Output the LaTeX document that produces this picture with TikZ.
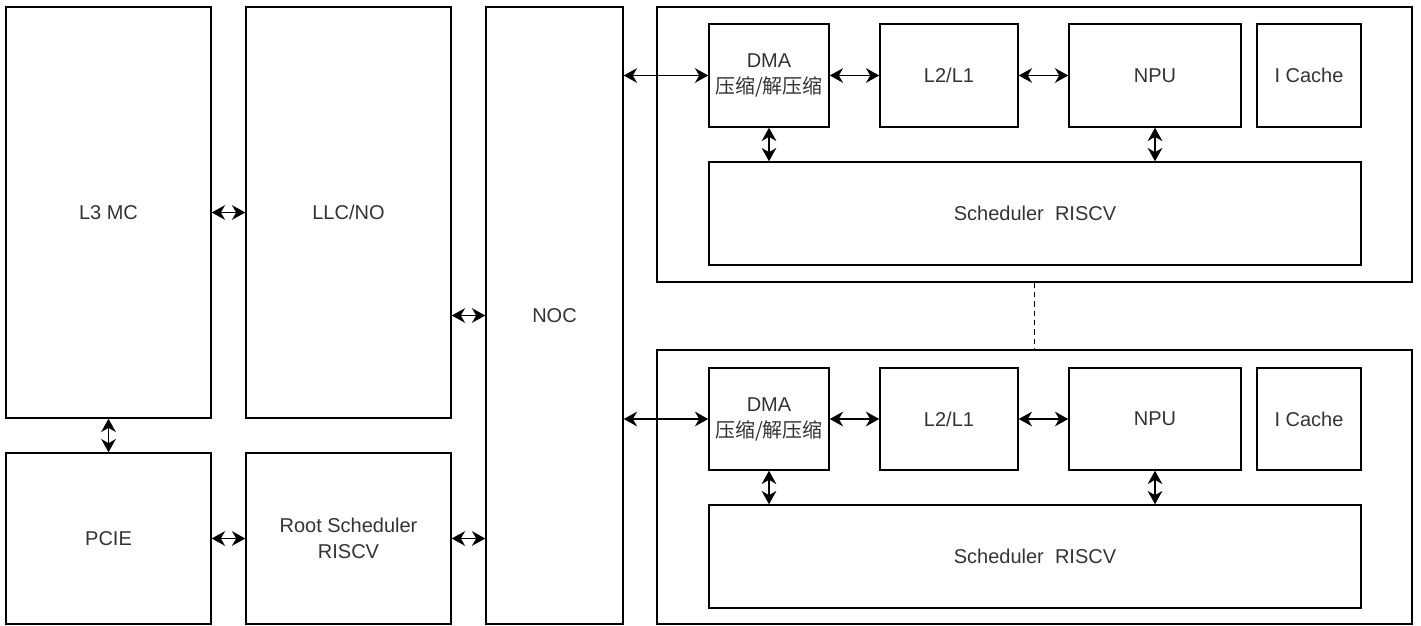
\documentclass[tikz,border=0pt]{standalone}
\usepackage{fontspec}
\setmainfont{Liberation Sans}
\newfontfamily\cjk{Noto Sans CJK SC}
\usetikzlibrary{arrows.meta,fit}
\begin{document}
\begin{tikzpicture}[x=0.75pt,y=-0.75pt,
  box/.style={draw=black,line width=1.1pt,inner sep=0pt,fit={#1}},
  lbl/.style={align=center,inner sep=0pt,font=\fontsize{15}{19.5}\selectfont,text=black!80},
  txt/.style={label={[lbl]center:#1}},
  biarrow/.style={line width=1.1pt,{Stealth[length=10pt,width=11pt,inset=3.2pt]}-{Stealth[length=10pt,width=11pt,inset=3.2pt]}},
  dashline/.style={line width=0.9pt,dashed,dash pattern=on 4pt off 3pt}]
\useasboundingbox (0,0) rectangle (1421,625);
% left column
\node[box={(6,7)(211,418)},txt={L3 MC}] (L3) {};
\node[box={(246,7)(451,418)},txt={LLC/NO}] (LLC) {};
\node[box={(486,7)(623,624)},txt={NOC}] (NOC) {};
\node[box={(6,453)(211,624)},txt={PCIE}] (PCIE) {};
\node[box={(246,453)(451,624)},txt={Root Scheduler\\RISCV}] (Root) {};
% top cluster
\node[box={(657,7)(1412,282)}] (Ctop) {};
\node[box={(709,24)(829,127)},txt={DMA\\{\cjk 压缩/解压缩}}] (DMAa) {};
\node[box={(880,24)(1018,127)},txt={L2/L1}] (L2a) {};
\node[box={(1069,24)(1241,127)},txt={NPU}] (NPUa) {};
\node[box={(1257,24)(1361,127)},txt={I Cache}] (ICa) {};
\node[box={(709,162)(1361,265)},txt={Scheduler\ \ RISCV}] (Sa) {};
% bottom cluster
\node[box={(657,350)(1412,624)}] (Cbot) {};
\node[box={(709,368)(829,470)},txt={DMA\\{\cjk 压缩/解压缩}}] (DMAb) {};
\node[box={(880,368)(1018,470)},txt={L2/L1}] (L2b) {};
\node[box={(1069,368)(1241,470)},txt={NPU}] (NPUb) {};
\node[box={(1257,368)(1361,470)},txt={I Cache}] (ICb) {};
\node[box={(709,505)(1361,608)},txt={Scheduler\ \ RISCV}] (Sb) {};
% connectors
\draw[biarrow] (L3.east) -- (LLC.west);
\draw[biarrow] (L3.south) -- (PCIE.north);
\draw[biarrow] (PCIE.east) -- (Root.west);
\draw[biarrow] (LLC.east |- NOC.west) -- (NOC.west);
\draw[biarrow] (Root.east) -- (NOC.west |- Root.east);
\draw[biarrow] (NOC.east |- DMAa.west) -- (DMAa.west);
\draw[biarrow] (NOC.east |- DMAb.west) -- (DMAb.west);
\draw[biarrow] (DMAa.east) -- (L2a.west);
\draw[biarrow] (L2a.east) -- (NPUa.west);
\draw[biarrow] (DMAb.east) -- (L2b.west);
\draw[biarrow] (L2b.east) -- (NPUb.west);
\draw[biarrow] (DMAa.south) -- (DMAa.south |- Sa.north);
\draw[biarrow] (NPUa.south) -- (NPUa.south |- Sa.north);
\draw[biarrow] (DMAb.south) -- (DMAb.south |- Sb.north);
\draw[biarrow] (NPUb.south) -- (NPUb.south |- Sb.north);
\draw[dashline] (Ctop.south) -- (Cbot.north);
\end{tikzpicture}
\end{document}
